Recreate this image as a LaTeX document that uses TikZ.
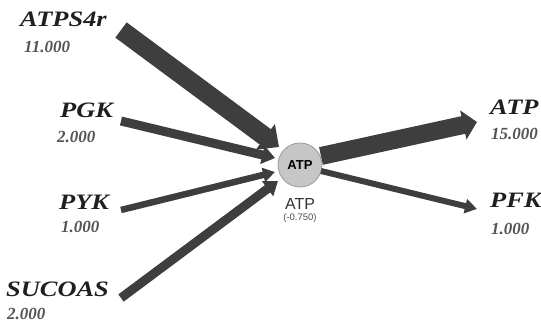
\documentclass[tikz,border=0pt]{standalone}
\usepackage{fontspec}
\setmainfont{Liberation Serif}
\setsansfont{Liberation Sans}
\newfontfamily\rxnfont[FakeStretch=1.2]{Liberation Serif}
\usetikzlibrary{arrows.meta}
\definecolor{fluxgray}{HTML}{3E3E3E}
\definecolor{metfill}{HTML}{C6C6C6}
\definecolor{metedge}{HTML}{9A9A9A}
\definecolor{valgray}{HTML}{555555}
\tikzset{
  rxn/.style={anchor=base west, inner sep=0pt, text=black!88,
    font=\rxnfont\bfseries\itshape\fontsize{22}{24}\selectfont},
  fluxval/.style={anchor=base west, inner sep=0pt, text=valgray,
    font=\bfseries\itshape\fontsize{17}{19}\selectfont},
  flux/.style={draw=fluxgray, line cap=butt, line join=miter},
  metab/.style={circle, fill=metfill, draw=metedge, line width=0.8pt,
    minimum size=44pt, inner sep=0pt,
    font=\sffamily\bfseries\fontsize{13}{14}\selectfont},
}
\begin{document}
\begin{tikzpicture}[x=1pt,y=-1pt]
\useasboundingbox (0,0) rectangle (541,328);

% metabolite hub
\node[metab] (hub) at (300,165) {ATP};
\node[anchor=base, inner sep=0pt, text=black!80,
  font=\sffamily\fontsize{16}{18}\selectfont] (hubname) at (300,210) {ATP};
\node[anchor=base, inner sep=0pt, text=black!70,
  font=\sffamily\fontsize{9.5}{11}\selectfont] (hubval) at (300,221) {(-0.750)};

% reaction labels and flux values
\node[rxn] (atps) at (20,27) {ATPS4r};
\node[fluxval] (atpsv) at (24,53) {11.000};
\node[rxn] (pgk) at (60,118) {PGK};
\node[fluxval] (pgkv) at (57,143) {2.000};
\node[rxn] (pyk) at (59,210) {PYK};
\node[fluxval] (pykv) at (61,233) {1.000};
\node[rxn] (sucoas) at (6,297) {SUCOAS};
\node[fluxval] (sucoasv) at (7,320) {2.000};
\node[rxn] (atpout) at (490,115) {ATP};
\node[fluxval] (atpoutv) at (491,140) {15.000};
\node[rxn] (pfk) at (490,208) {PFK};
\node[fluxval] (pfkv) at (491,235) {1.000};

% connector end points
\coordinate (atps-t) at (121,30);
\coordinate (atps-h) at (279,147);
\coordinate (pgk-t) at (121,121);
\coordinate (pgk-h) at (275,158);
\coordinate (pyk-t) at (121,210);
\coordinate (pyk-h) at (275,172);
\coordinate (sucoas-t) at (121,298);
\coordinate (sucoas-h) at (278,181);
\coordinate (atpout-t) at (321,156);
\coordinate (atpout-h) at (477,122);
\coordinate (pfk-t) at (321,171);
\coordinate (pfk-h) at (477,209);

% flux arrows, width proportional to flux
\draw[flux, line width=19pt, -{Triangle[length=17pt,width=31pt]}, fluxgray] (atps-t) -- (atps-h);
\draw[flux, line width=9pt, -{Triangle[length=13pt,width=18pt]}, fluxgray] (pgk-t) -- (pgk-h);
\draw[flux, line width=6.5pt, -{Triangle[length=12pt,width=14pt]}, fluxgray] (pyk-t) -- (pyk-h);
\draw[flux, line width=9pt, -{Triangle[length=13pt,width=18pt]}, fluxgray] (sucoas-t) -- (sucoas-h);
\draw[flux, line width=18pt, -{Triangle[length=14pt,width=29pt]}, fluxgray] (atpout-t) -- (atpout-h);
\draw[flux, line width=6pt, -{Triangle[length=12pt,width=14pt]}, fluxgray] (pfk-t) -- (pfk-h);
\end{tikzpicture}
\end{document}
